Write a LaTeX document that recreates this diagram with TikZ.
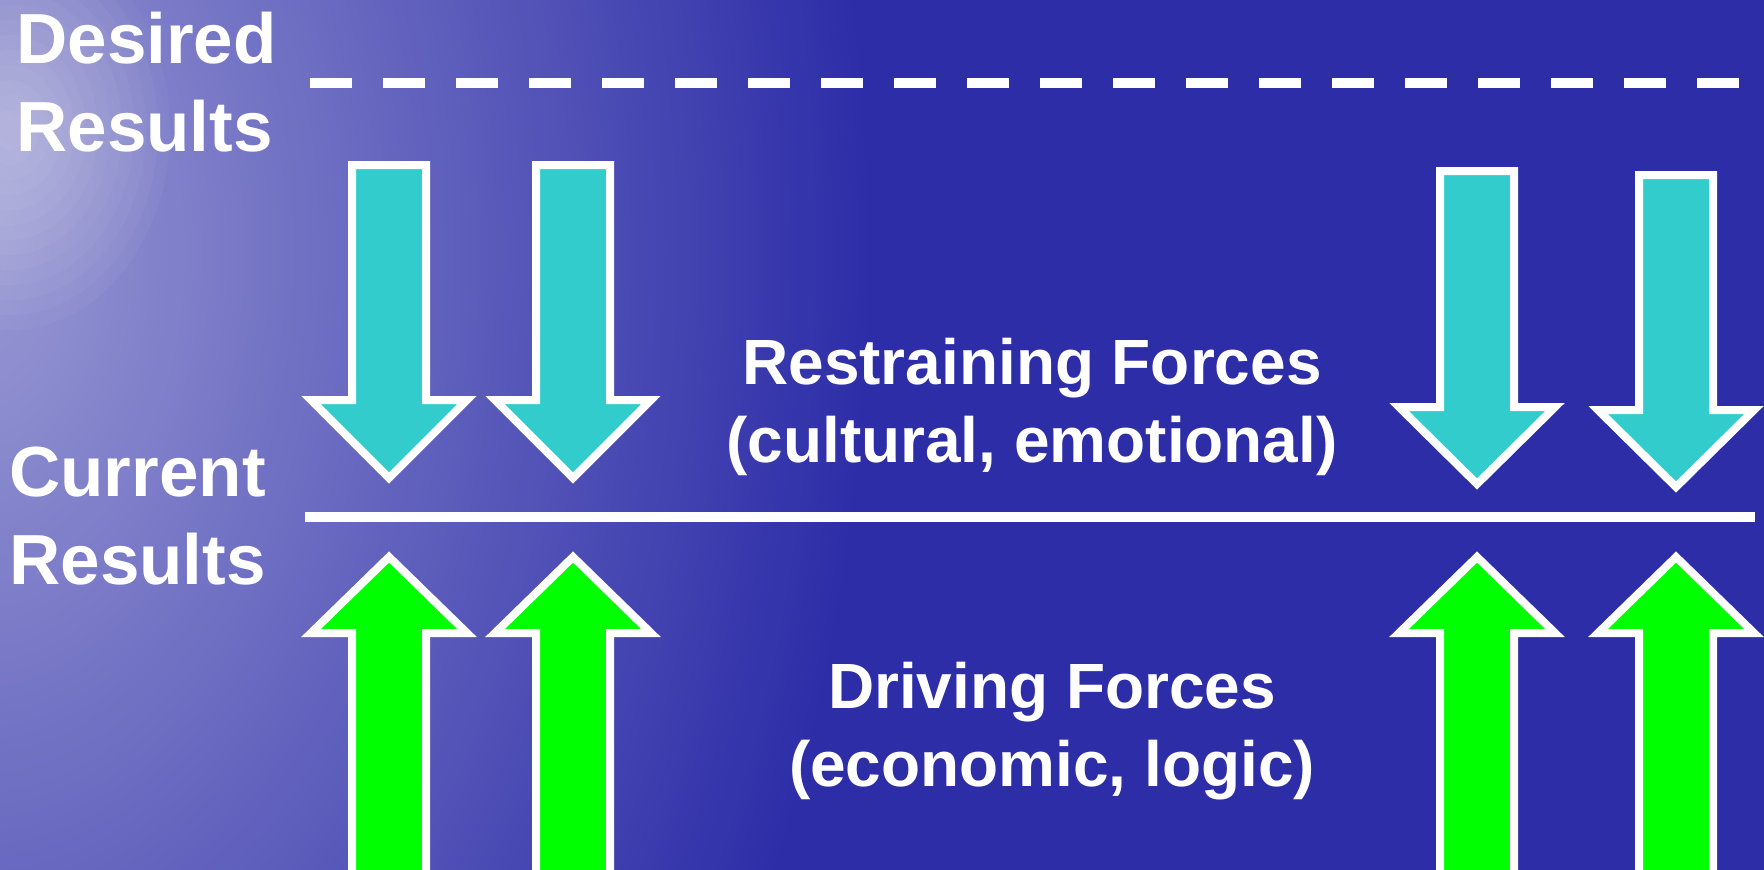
\documentclass[tikz,border=0pt]{standalone}
\usepackage{fontspec}
\setmainfont{Liberation Sans}
\definecolor{seablue}{HTML}{2D2DA8}
\definecolor{seaglow}{HTML}{9898D4}
\definecolor{restrain}{HTML}{33CCCC}
\definecolor{drive}{HTML}{00FF00}
\tikzset{
  sidelabel/.style={text=white, font=\fontsize{40.4pt}{50pt}\selectfont\bfseries, align=left, inner sep=0pt, anchor=north west},
  forcelabel/.style={text=white, font=\fontsize{36.4pt}{44.4pt}\selectfont\bfseries, align=center, inner sep=0pt, anchor=north},
  forcearrow/.style={draw=white, line width=0.16cm, miter limit=10},
  resultline/.style={draw=white, line width=0.19cm},
}
\begin{document}
\begin{tikzpicture}[x=0.02cm, y=-0.02cm]
\useasboundingbox (0,0) rectangle (1764,869);
\clip (-3,-3) rectangle (1767,872);
% water background
\fill[seablue] (-3,-3) rectangle (1767,872);
\shade[inner color=seaglow, outer color=seablue] (-30,250) ellipse (900 and 1400);
\foreach \r in {20,35,...,200}
  \fill[white, fill opacity=0.035] (10,130) ellipse (\r*0.8 and \r);
% result levels
\coordinate (desL) at (310,83);
\coordinate (desR) at (1758,83);
\coordinate (curL) at (305,517);
\coordinate (curR) at (1755,517);
\draw[resultline, dash pattern=on 0.84cm off 0.62cm] (desL) -- (desR);
\draw[resultline] (curL) -- (curR);
% restraining arrows: centre/top/head base/tip
\foreach \c/\t/\b/\p in {389/165/400/478, 573/165/400/478, 1477/171/407/484, 1676/175/410/487}
  \filldraw[forcearrow, fill=restrain] (\c-37,\t) -- (\c+37,\t) -- (\c+37,\b) -- (\c+78,\b)
    -- (\c,\p) -- (\c-78,\b) -- (\c-37,\b) -- cycle;
% driving arrows
\foreach \c in {389, 573, 1477, 1676}
  \filldraw[forcearrow, fill=drive] (\c-37,890) -- (\c+37,890) -- (\c+37,633) -- (\c+78,633)
    -- (\c,557) -- (\c-78,633) -- (\c-37,633) -- cycle;
\node[sidelabel] (desired) at (16,12) {Desired\\Results};
\node[sidelabel] (current) at (9,447) {Current\\Results};
\node[forcelabel] (restraining) at (1032,338) {Restraining Forces\\(cultural, emotional)};
\node[forcelabel] (driving) at (1052,662) {Driving Forces\\(economic, logic)};
\end{tikzpicture}
\end{document}
